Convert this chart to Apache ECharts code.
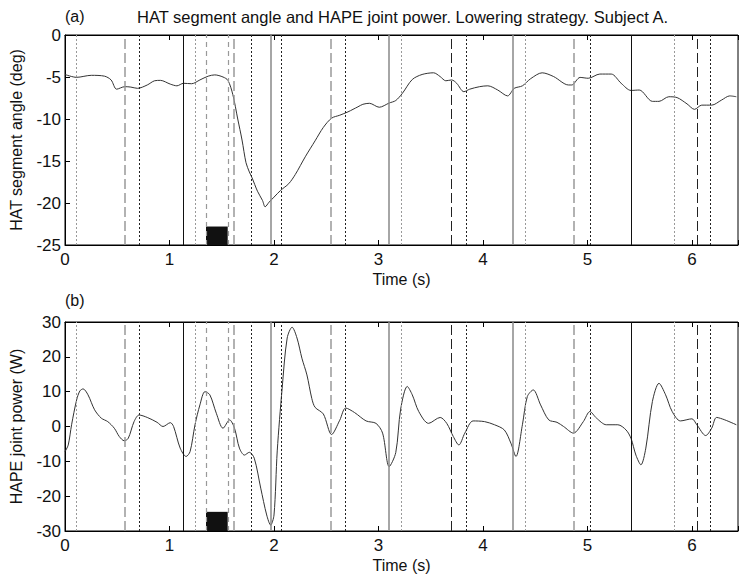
<!DOCTYPE html>
<html>
<head>
<meta charset="utf-8">
<script src="https://cdn.jsdelivr.net/npm/echarts@6/dist/echarts.min.js"></script>
<style>
  html, body { margin: 0; padding: 0; background: #fff; }
  #chart { width: 741px; height: 575px; }
</style>
</head>
<body>
<div id="chart"></div>
<script>
// (a) HAT segment angle, deg
const timeA = [0, 0.11, 0.252, 0.378, 0.441, 0.494, 0.573, 0.63, 0.693, 0.787, 0.857, 0.913, 1.008, 1.071, 1.134,
  1.212, 1.291, 1.37, 1.433, 1.512, 1.559, 1.606, 1.653, 1.694, 1.732, 1.764, 1.79, 1.842, 1.89, 1.915, 1.953,
  2.0, 2.063, 2.141, 2.204, 2.299, 2.393, 2.472, 2.551, 2.629, 2.708, 2.756, 2.803, 2.85, 2.913, 3.007, 3.102,
  3.165, 3.228, 3.323, 3.417, 3.527, 3.59, 3.644, 3.7, 3.748, 3.817, 3.873, 3.968, 4.046, 4.141, 4.235, 4.299,
  4.377, 4.456, 4.566, 4.676, 4.818, 4.849, 4.929, 5.007, 5.118, 5.227, 5.322, 5.416, 5.495, 5.621, 5.684,
  5.778, 5.857, 5.952, 6.024, 6.093, 6.188, 6.282, 6.361, 6.424];
const angleA = [-4.7, -5.04, -4.8, -4.9, -5.35, -6.45, -6.15, -6.2, -6.35, -5.95, -5.45, -5.4, -5.85, -6.05, -5.75,
  -5.8, -5.35, -4.9, -4.75, -5.0, -5.4, -7.1, -10.0, -12.5, -15.2, -16.3, -17.0, -18.6, -19.7, -20.45, -19.9,
  -19.3, -18.5, -17.7, -16.6, -14.5, -12.6, -11.0, -9.9, -9.55, -9.15, -8.85, -8.55, -8.25, -8.13, -8.6, -8.1,
  -7.8, -6.95, -5.3, -4.7, -4.5, -4.95, -5.45, -5.35, -5.75, -6.75, -6.45, -6.15, -6.05, -6.55, -7.25, -6.35,
  -6.05, -5.2, -4.5, -4.95, -5.95, -5.95, -5.05, -5.15, -4.65, -4.65, -5.75, -6.6, -6.55, -7.9, -7.9,
  -7.35, -7.45, -8.2, -8.85, -8.35, -8.35, -7.75, -7.25, -7.35];

// (b) HAPE joint power, W
const timeB = [0, 0.031, 0.063, 0.111, 0.142, 0.173, 0.22, 0.283, 0.347, 0.409, 0.472, 0.52, 0.567, 0.605, 0.661,
  0.709, 0.787, 0.881, 0.938, 1.008, 1.039, 1.102, 1.159, 1.197, 1.244, 1.291, 1.339, 1.386, 1.448, 1.512,
  1.575, 1.622, 1.669, 1.717, 1.764, 1.811, 1.873, 1.93, 1.968, 2.0, 2.031, 2.078, 2.126, 2.173, 2.22, 2.267,
  2.315, 2.362, 2.393, 2.472, 2.551, 2.629, 2.686, 2.771, 2.881, 2.976, 3.039, 3.102, 3.165, 3.212, 3.275,
  3.323, 3.385, 3.479, 3.59, 3.653, 3.716, 3.769, 3.826, 3.905, 4.015, 4.11, 4.204, 4.267, 4.315, 4.377,
  4.424, 4.481, 4.551, 4.629, 4.708, 4.771, 4.865, 4.96, 5.023, 5.086, 5.18, 5.29, 5.369, 5.416, 5.463,
  5.511, 5.558, 5.621, 5.684, 5.747, 5.81, 5.889, 5.999, 6.046, 6.131, 6.188, 6.235, 6.314, 6.424];
const powerB = [-7.2, -5.3, 0.5, 7.6, 10.2, 10.8, 9.1, 4.8, 2.4, 1.4, -0.5, -2.9, -4.1, -3.4, 1.4,
  3.3, 2.6, 1.2, 0, 1.1, 0, -6.2, -8.6, -7.2, 0.5, 6.2, 10.0, 9.1, 3.8, -0.5,
  1.9, -0.5, -6.2, -8.2, -7.4, -9.1, -17.7, -25.4, -28.3, -25.4, -7, 11, 25.4, 28.5, 25.4, 19.6,
  14.8, 8, 5.5, 3.6, -2.3, 1.8, 5.3, 4.0, 1.6, 0.9, -1.9, -11.5, -7.5, 5, 11.5,
  9.1, 4.3, 0.9, 2.6, 0.9, -2.9, -5.3, -1.9, 1.6, 1.4, 0.5, -1.0, -4.8, -8.6, 0.5,
  8.6, 10.5, 6.2, 1.9, 1.2, 0, -1.9, 1.4, 4.3, 2.4, 0.5, 0.5, -1.0, -3.4, -8.2,
  -11.0, -6.2, 7.2, 12.4, 9.1, 4.3, 1.6, 2.2, 0.5, -2.6, -0.5, 2.6, 1.9, 0.5];

// Gait event markers (s), grouped by line style
const solidBlack = [1.134, 5.419];
const solidGray = [1.972, 3.097, 4.278];
const longDashGray = [0.574, 1.613, 2.54, 4.865];
const longDashBlack = [3.70, 6.05];
const midDashGray = [1.349, 1.557];
const dotGray = [0.11, 1.254, 3.223, 4.40, 5.825];
const dotBlack = [0.712, 1.78, 2.073, 2.68, 3.84, 5.028, 6.17];

// Lowering phase block
const blockTimes = [1.349, 1.557];
const blockTopA = -22.8;
const blockTopB = -24.5;

const xTicks = [0, 1, 2, 3, 4, 5, 6];

const styleGroups = [
  { times: solidBlack, color: '#111', width: 1, type: 'solid' },
  { times: solidGray, color: '#888', width: 1.5, type: 'solid' },
  { times: longDashGray, color: '#999', width: 1.5, type: [10, 4] },
  { times: longDashBlack, color: '#222', width: 1, type: [10, 4] },
  { times: midDashGray, color: '#999', width: 1.2, type: [5, 4] },
  { times: dotGray, color: '#999', width: 1, type: [2, 2] },
  { times: dotBlack, color: '#222', width: 1, type: [2, 2] }
];

function eventLines() {
  const out = [];
  styleGroups.forEach(g => g.times.forEach(t => out.push({
    xAxis: t,
    lineStyle: { color: g.color, width: g.width, type: g.type }
  })));
  return out;
}

const font = 'Liberation Sans, Arial, sans-serif';
const X_MAX = 6.44;

function xAxisPair(gi) {
  const base = {
    gridIndex: gi, type: 'value', min: 0, max: X_MAX, interval: 1,
    splitLine: { show: false },
    axisLine: { onZero: false, lineStyle: { color: '#000', width: 1 } },
    axisTick: { inside: true, length: 5, lineStyle: { color: '#000' } }
  };
  return [
    Object.assign({}, base, {
      position: 'bottom',
      name: 'Time (s)', nameLocation: 'middle', nameGap: 26,
      nameTextStyle: { fontFamily: font, fontSize: 16, color: '#111' },
      axisLabel: {
        fontFamily: font, fontSize: 17, color: '#111', margin: 6,
        formatter: v => (xTicks.indexOf(v) >= 0 ? String(v) : '')
      }
    }),
    Object.assign({}, base, { position: 'top', axisLabel: { show: false } })
  ];
}

function yAxisFor(gi, min, max, interval, name) {
  return {
    gridIndex: gi, type: 'value', min: min, max: max, interval: interval,
    splitLine: { show: false },
    axisLine: { onZero: false, lineStyle: { color: '#000', width: 1 } },
    axisTick: { inside: true, length: 5, lineStyle: { color: '#000' } },
    axisLabel: { fontFamily: font, fontSize: 17, color: '#111', margin: 4 },
    name: name, nameLocation: 'middle', nameRotate: 90, nameGap: 41,
    nameTextStyle: { fontFamily: font, fontSize: 16, color: '#111' }
  };
}

function toPairs(xs, ys) { return xs.map((x, i) => [x, ys[i]]); }

const chart = echarts.init(document.getElementById('chart'), null, { renderer: 'svg' });
chart.setOption({
  animation: false,
  backgroundColor: '#fff',
  graphic: [
    { type: 'text', left: 137, top: 8, style: { text: 'HAT segment angle and HAPE joint power. Lowering strategy. Subject A.', font: '16.5px ' + font, fill: '#111' } },
    { type: 'text', left: 65, top: 8, style: { text: '(a)', font: '16px ' + font, fill: '#111' } },
    { type: 'text', left: 65, top: 292, style: { text: '(b)', font: '16px ' + font, fill: '#111' } }
  ],
  grid: [
    { left: 60, top: 35, width: 682, height: 210, show: true, borderColor: '#000', borderWidth: 1 },
    { left: 60, top: 322, width: 682, height: 209, show: true, borderColor: '#000', borderWidth: 1 }
  ],
  xAxis: [].concat(xAxisPair(0), xAxisPair(1)),
  yAxis: [
    yAxisFor(0, -25, 0, 5, 'HAT segment angle (deg)'),
    yAxisFor(1, -30, 30, 10, 'HAPE joint power (W)')
  ],
  series: [
    {
      type: 'line', xAxisIndex: 0, yAxisIndex: 0, data: toPairs(timeA, angleA),
      showSymbol: false, smooth: 0.3, lineStyle: { color: '#333', width: 1 },
      markLine: { silent: true, symbol: ['none', 'none'], label: { show: false }, data: eventLines() },
      markArea: { silent: true, itemStyle: { color: '#111', opacity: 1 },
        data: [[{ coord: [blockTimes[0], blockTopA] }, { coord: [blockTimes[1], -25] }]] }
    },
    {
      type: 'line', xAxisIndex: 2, yAxisIndex: 1, data: toPairs(timeB, powerB),
      showSymbol: false, smooth: 0.3, lineStyle: { color: '#333', width: 1 },
      markLine: { silent: true, symbol: ['none', 'none'], label: { show: false }, data: eventLines() },
      markArea: { silent: true, itemStyle: { color: '#111', opacity: 1 },
        data: [[{ coord: [blockTimes[0], blockTopB] }, { coord: [blockTimes[1], -30] }]] }
    }
  ]
});
</script>
</body>
</html>
